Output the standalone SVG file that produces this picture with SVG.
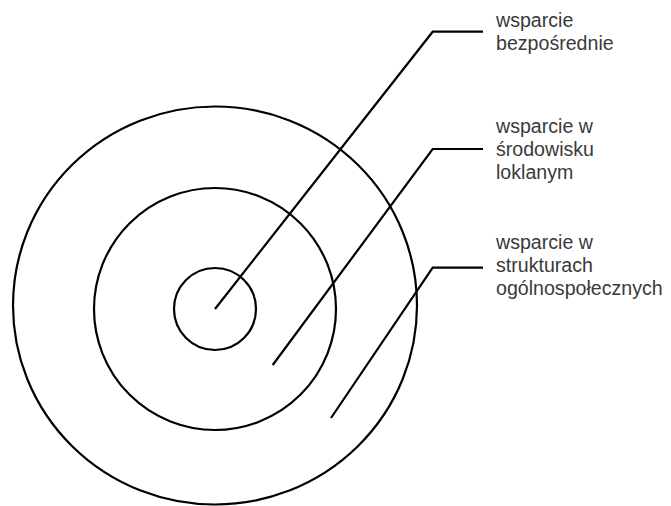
<svg xmlns="http://www.w3.org/2000/svg" width="671" height="506" viewBox="0 0 671 506">
<style>
.ring{fill:none;stroke:#000;stroke-width:2.2}
.lead{fill:none;stroke:#000;stroke-width:2.2;stroke-linejoin:miter}
.lbl{font-family:"Liberation Sans","Open Sans",sans-serif;font-size:19.6px;fill:#3a3a3a}
</style>
<rect width="671" height="506" fill="#fff"/>
<g id="ring-outer"><ellipse class="ring" cx="215" cy="305.5" rx="202" ry="199"/></g>
<g id="ring-middle"><circle class="ring" cx="215" cy="309" r="121"/></g>
<g id="ring-inner"><circle class="ring" cx="215" cy="309" r="41"/></g>
<g id="connectors">
<polyline class="lead" points="215,309 432.7,31.7 483,31.7"/>
<polyline class="lead" points="272.7,365 432.7,149 483,149"/>
<polyline class="lead" points="331,418 432.7,267.7 483,267.7"/>
</g>
<g id="label-1">
<text class="lbl" x="496" y="26.7">wsparcie</text>
<text class="lbl" x="496" y="50">bezpośrednie</text>
</g>
<g id="label-2">
<text class="lbl" x="496" y="133.3">wsparcie w</text>
<text class="lbl" x="496" y="156">środowisku</text>
<text class="lbl" x="496" y="179">loklanym</text>
</g>
<g id="label-3">
<text class="lbl" x="496" y="249">wsparcie w</text>
<text class="lbl" x="496" y="272">strukturach</text>
<text class="lbl" x="496" y="295">ogólnospołecznych</text>
</g>
</svg>
